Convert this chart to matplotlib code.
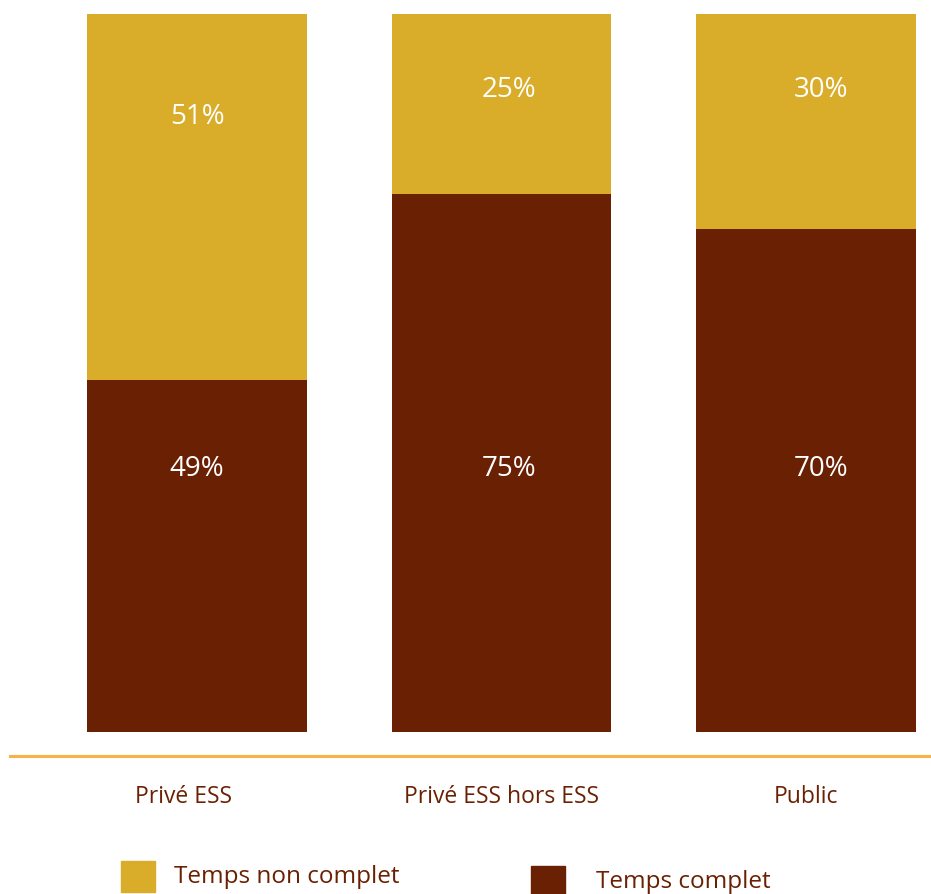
import matplotlib.pyplot as plt
from matplotlib.patches import Rectangle

plt.rcParams['font.family'] = ['Open Sans', 'DejaVu Sans']

# === Données ===
categories = ['Privé ESS', 'Privé ESS hors ESS', 'Public']
temps_complet = [49, 75, 70]
temps_non_complet = [51, 25, 30]
series_names = ['Temps non complet', 'Temps complet']

JAUNE = '#D9AD29'
BRUN = '#6A2002'
ORANGE = '#F9B245'

W, H = 931, 895
fig = plt.figure(figsize=(W / 100, H / 100), dpi=100)

# axes : du bas des barres (y=733px) au haut (y=15px), ligne orange de 10 à 931px
ax = fig.add_axes([10 / W, (H - 733) / H, 921 / W, 718 / H])
x = list(range(len(categories)))
ax.bar(x, temps_complet, width=0.72, color=BRUN, zorder=2)
ax.bar(x, temps_non_complet, width=0.72, bottom=temps_complet, color=JAUNE, zorder=2)
ax.set_xlim(-0.614, 2.41)
ax.set_ylim(0, 100)

# position des étiquettes dans chaque barre
label_dx = [0.0, 0.023, 0.05]
label_y_haut = [85.8, 89.5, 89.5]
label_y_bas = 36.8
for i, (c, nc) in enumerate(zip(temps_complet, temps_non_complet)):
    ax.text(i + label_dx[i], label_y_bas, f'{c}%', ha='center', va='center',
            color='white', fontsize=20)
    ax.text(i + label_dx[i], label_y_haut[i], f'{nc}%', ha='center', va='center',
            color='white', fontsize=20)

for s in ['top', 'right', 'left']:
    ax.spines[s].set_visible(False)
ax.spines['bottom'].set_position(('outward', 24 * 0.72))
ax.spines['bottom'].set_color(ORANGE)
ax.spines['bottom'].set_linewidth(2.2)
ax.set_yticks([])
ax.set_xticks([-0.043, 1.0, 2.0])
ax.set_xticklabels(categories, color=BRUN, fontsize=16.5)
ax.tick_params(axis='x', length=0, pad=20)

# === Légende ===
def legend_item(px, py, size_w, size_h, color, label, tx, ty):
    fig.add_artist(Rectangle((px / W, 1 - (py + size_h) / H), size_w / W, size_h / H,
                             transform=fig.transFigure, color=color))
    fig.text(tx / W, 1 - ty / H, label, color=BRUN, fontsize=17.5, va='center')

legend_item(121, 862, 34, 31, JAUNE, series_names[0], 174, 877)
legend_item(531, 867, 34, 29, BRUN, series_names[1], 596, 882)

plt.savefig('out.png', dpi=100)
plt.close()
